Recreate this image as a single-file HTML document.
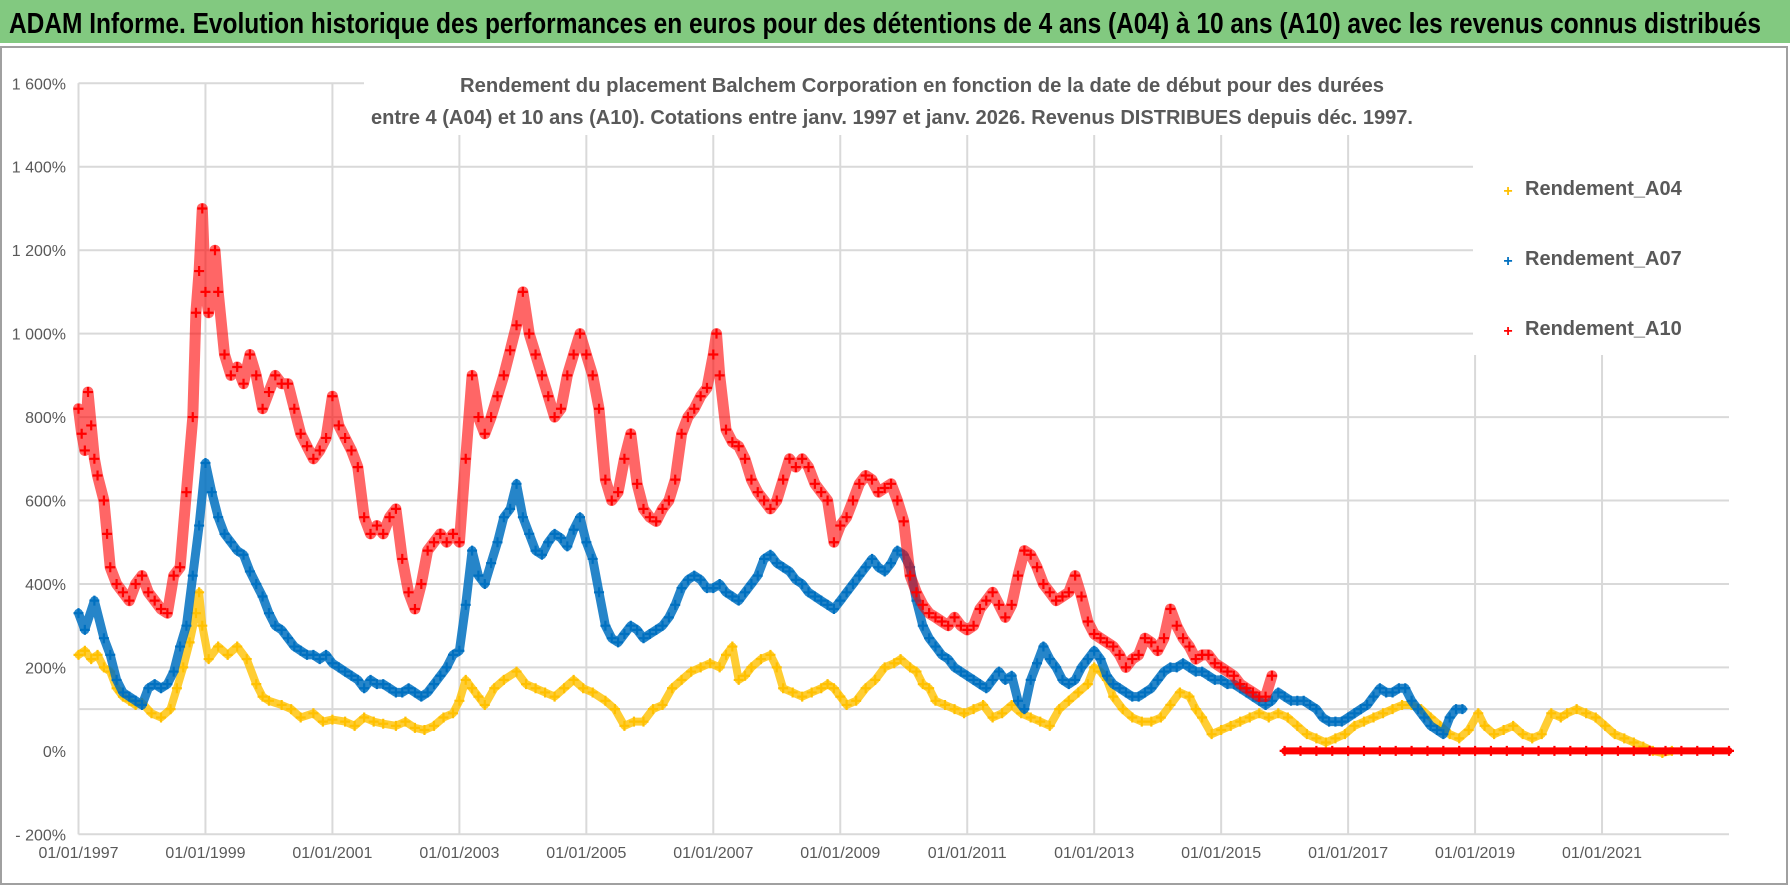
<!DOCTYPE html>
<html><head><meta charset="utf-8"><style>
html,body{margin:0;padding:0;background:#fff;}
svg{display:block;font-family:"Liberation Sans",sans-serif;}
</style></head><body>
<svg id="chart" width="1790" height="886" viewBox="0 0 1790 886" xmlns="http://www.w3.org/2000/svg">
<rect x="0" y="0" width="1790" height="886" fill="#fff"/>
<rect x="0" y="0" width="1790" height="43" fill="#82c980"/>
<text x="9" y="33" font-size="29" font-weight="bold" fill="#000" textLength="1752" lengthAdjust="spacingAndGlyphs">ADAM Informe. Evolution historique des performances en euros pour des détentions de 4 ans (A04) à 10 ans (A10) avec les revenus connus distribués</text>
<rect x="1" y="47" width="1786" height="837" fill="none" stroke="#a0a0a0" stroke-width="2"/>
<g id="grid"></g>
<g id="axes"></g>
<g id="marks"></g>
<rect x="364" y="60" width="1380" height="75" fill="#fff"/>
<text x="922" y="92" font-size="20" font-weight="bold" fill="#595959" text-anchor="middle" textLength="924" lengthAdjust="spacingAndGlyphs">Rendement du placement Balchem Corporation en fonction de la date de début pour des durées</text>
<text x="892" y="124" font-size="20" font-weight="bold" fill="#595959" text-anchor="middle" textLength="1042" lengthAdjust="spacingAndGlyphs">entre 4 (A04) et 10 ans (A10). Cotations entre janv. 1997 et janv. 2026. Revenus DISTRIBUES depuis déc. 1997.</text>
<g>
<rect x="1473" y="135" width="300" height="220" fill="#fff"/>
<g><text x="1508" y="196" font-size="16" fill="#FFC000" font-weight="bold" text-anchor="middle">+</text><text x="1525" y="195" font-size="20" font-weight="bold" fill="#595959">Rendement_A04</text></g>
<g><text x="1508" y="266" font-size="16" fill="#0070C0" font-weight="bold" text-anchor="middle">+</text><text x="1525" y="265" font-size="20" font-weight="bold" fill="#595959">Rendement_A07</text></g>
<g><text x="1508" y="336" font-size="16" fill="#FF0000" font-weight="bold" text-anchor="middle">+</text><text x="1525" y="335" font-size="20" font-weight="bold" fill="#595959">Rendement_A10</text></g>
</g>
</svg>
<script>
const yTicks=[1600,1400,1200,1000,800,600,400,200,100,-200];
const yTickLabels=["1 600%","1 400%","1 200%","1 000%","800%","600%","400%","200%","","- 200%"];
const yLabelOnly=[0];
const xTicks=[1997,1999,2001,2003,2005,2007,2009,2011,2013,2015,2017,2019,2021];
const xTickLabels=["01/01/1997","01/01/1999","01/01/2001","01/01/2003","01/01/2005","01/01/2007","01/01/2009","01/01/2011","01/01/2013","01/01/2015","01/01/2017","01/01/2019","01/01/2021"];

const a04Dates=[1997.0,1997.1,1997.2,1997.3,1997.4,1997.5,1997.6,1997.7,1997.8,1997.9,1998.0,1998.15,1998.3,1998.45,1998.55,1998.65,1998.75,1998.85,1998.9,1998.95,1999.05,1999.2,1999.35,1999.5,1999.65,1999.8,1999.9,2000.0,2000.2,2000.35,2000.5,2000.7,2000.85,2001.0,2001.2,2001.35,2001.5,2001.65,2001.8,2002.0,2002.15,2002.3,2002.45,2002.6,2002.75,2002.9,2003.0,2003.1,2003.2,2003.3,2003.4,2003.55,2003.7,2003.9,2004.05,2004.2,2004.35,2004.5,2004.65,2004.8,2004.95,2005.1,2005.3,2005.45,2005.6,2005.75,2005.9,2006.05,2006.2,2006.35,2006.5,2006.65,2006.8,2006.95,2007.1,2007.2,2007.3,2007.4,2007.5,2007.6,2007.75,2007.9,2008.0,2008.1,2008.25,2008.4,2008.55,2008.7,2008.8,2008.9,2009.0,2009.1,2009.25,2009.4,2009.55,2009.7,2009.85,2009.95,2010.1,2010.2,2010.3,2010.4,2010.5,2010.65,2010.8,2010.95,2011.1,2011.25,2011.4,2011.55,2011.7,2011.85,2012.0,2012.15,2012.3,2012.45,2012.6,2012.75,2012.9,2013.0,2013.1,2013.2,2013.3,2013.45,2013.6,2013.75,2013.9,2014.05,2014.2,2014.35,2014.5,2014.6,2014.7,2014.85,2015.0,2015.15,2015.3,2015.45,2015.6,2015.75,2015.9,2016.05,2016.2,2016.35,2016.5,2016.65,2016.8,2016.95,2017.1,2017.25,2017.4,2017.55,2017.7,2017.85,2018.0,2018.15,2018.3,2018.45,2018.6,2018.75,2018.9,2019.05,2019.15,2019.3,2019.45,2019.6,2019.75,2019.9,2020.05,2020.2,2020.35,2020.45,2020.6,2020.75,2020.9,2021.05,2021.2,2021.35,2021.5,2021.65,2021.8,2021.95,2022.1,2022.2,2022.3];
const a04Values=[230,240,220,230,200,190,150,130,120,110,115,90,80,100,150,200,260,330,380,300,220,250,230,250,220,160,130,120,110,100,80,90,70,75,70,60,80,70,65,60,70,55,50,60,80,90,120,170,150,130,110,150,170,190,160,150,140,130,150,170,150,140,120,100,60,70,70,100,110,150,170,190,200,210,200,230,250,170,180,200,220,230,200,150,140,130,140,150,160,150,130,110,120,150,170,200,210,220,200,190,160,150,120,110,100,90,100,110,80,90,110,90,80,70,60,100,120,140,160,200,190,170,130,100,80,70,70,80,110,140,130,100,80,40,50,60,70,80,90,80,90,80,60,40,30,20,30,40,60,70,80,90,100,110,110,100,80,60,40,30,50,90,60,40,50,60,40,30,40,90,80,90,100,90,80,60,40,30,20,10,0,-5,0];

const a07Dates=[1997.0,1997.1,1997.25,1997.4,1997.5,1997.6,1997.7,1997.8,1997.9,1998.0,1998.1,1998.2,1998.3,1998.4,1998.5,1998.6,1998.7,1998.8,1998.9,1999.0,1999.1,1999.2,1999.3,1999.4,1999.5,1999.6,1999.7,1999.8,1999.9,2000.0,2000.1,2000.2,2000.3,2000.4,2000.5,2000.6,2000.7,2000.8,2000.9,2001.0,2001.1,2001.2,2001.3,2001.4,2001.5,2001.6,2001.7,2001.8,2001.9,2002.0,2002.1,2002.2,2002.3,2002.4,2002.5,2002.6,2002.7,2002.8,2002.9,2003.0,2003.1,2003.2,2003.3,2003.4,2003.5,2003.6,2003.7,2003.8,2003.9,2004.0,2004.1,2004.2,2004.3,2004.4,2004.5,2004.6,2004.7,2004.8,2004.9,2005.0,2005.1,2005.2,2005.3,2005.4,2005.5,2005.6,2005.7,2005.8,2005.9,2006.0,2006.1,2006.2,2006.3,2006.4,2006.5,2006.6,2006.7,2006.8,2006.9,2007.0,2007.1,2007.2,2007.3,2007.4,2007.5,2007.6,2007.7,2007.8,2007.9,2008.0,2008.1,2008.2,2008.3,2008.4,2008.5,2008.6,2008.7,2008.8,2008.9,2009.0,2009.1,2009.2,2009.3,2009.4,2009.5,2009.6,2009.7,2009.8,2009.9,2010.0,2010.1,2010.2,2010.3,2010.4,2010.5,2010.6,2010.7,2010.8,2010.9,2011.0,2011.1,2011.2,2011.3,2011.4,2011.5,2011.6,2011.7,2011.8,2011.9,2012.0,2012.1,2012.2,2012.3,2012.4,2012.5,2012.6,2012.7,2012.8,2012.9,2013.0,2013.1,2013.2,2013.3,2013.4,2013.5,2013.6,2013.7,2013.8,2013.9,2014.0,2014.1,2014.2,2014.3,2014.4,2014.5,2014.6,2014.7,2014.8,2014.9,2015.0,2015.1,2015.2,2015.3,2015.4,2015.5,2015.6,2015.7,2015.8,2015.9,2016.0,2016.1,2016.2,2016.3,2016.4,2016.5,2016.6,2016.7,2016.8,2016.9,2017.0,2017.1,2017.2,2017.3,2017.4,2017.5,2017.6,2017.7,2017.8,2017.9,2018.0,2018.1,2018.2,2018.3,2018.4,2018.5,2018.6,2018.7,2018.8,2018.9,2019.0,2019.1];
const a07Values=[330,290,360,270,230,170,140,130,120,110,150,160,150,160,190,250,300,420,540,690,620,560,520,500,480,470,430,400,370,330,300,290,270,250,240,230,230,220,230,210,200,190,180,170,150,170,160,160,150,140,140,150,140,130,140,160,180,200,230,240,350,480,420,400,450,500,560,580,640,560,520,480,470,500,520,510,490,530,560,500,460,380,300,270,260,280,300,290,270,280,290,300,320,350,390,410,420,410,390,390,400,380,370,360,380,400,420,460,470,450,440,430,410,400,380,370,360,350,340,360,380,400,420,440,460,440,430,450,480,470,440,360,300,270,250,230,220,200,190,180,170,160,150,170,190,170,180,120,100,170,210,250,220,200,170,160,170,200,220,240,220,180,160,150,140,130,130,140,150,170,190,200,200,210,200,190,190,180,170,170,160,160,150,140,130,120,110,120,140,130,120,120,120,110,100,80,70,70,70,80,90,100,110,130,150,140,140,150,150,120,100,80,60,50,40,80,100,100];

const a10Dates=[1997.0,1997.05,1997.1,1997.15,1997.2,1997.25,1997.3,1997.4,1997.45,1997.5,1997.6,1997.7,1997.8,1997.9,1998.0,1998.1,1998.2,1998.3,1998.4,1998.5,1998.6,1998.7,1998.8,1998.85,1998.9,1998.95,1999.0,1999.05,1999.15,1999.2,1999.3,1999.4,1999.5,1999.6,1999.7,1999.8,1999.9,2000.0,2000.1,2000.2,2000.3,2000.4,2000.5,2000.6,2000.7,2000.8,2000.9,2001.0,2001.1,2001.2,2001.3,2001.4,2001.5,2001.6,2001.7,2001.8,2001.9,2002.0,2002.1,2002.2,2002.3,2002.4,2002.5,2002.6,2002.7,2002.8,2002.9,2003.0,2003.1,2003.2,2003.3,2003.4,2003.5,2003.6,2003.7,2003.8,2003.9,2004.0,2004.1,2004.2,2004.3,2004.4,2004.5,2004.6,2004.7,2004.8,2004.9,2005.0,2005.1,2005.2,2005.3,2005.4,2005.5,2005.6,2005.7,2005.8,2005.9,2006.0,2006.1,2006.2,2006.3,2006.4,2006.5,2006.6,2006.7,2006.8,2006.9,2007.0,2007.05,2007.1,2007.2,2007.3,2007.4,2007.5,2007.6,2007.7,2007.8,2007.9,2008.0,2008.1,2008.2,2008.3,2008.4,2008.5,2008.6,2008.7,2008.8,2008.9,2009.0,2009.1,2009.2,2009.3,2009.4,2009.5,2009.6,2009.7,2009.8,2009.9,2010.0,2010.1,2010.2,2010.3,2010.4,2010.5,2010.6,2010.7,2010.8,2010.9,2011.0,2011.1,2011.2,2011.3,2011.4,2011.5,2011.6,2011.7,2011.8,2011.9,2012.0,2012.1,2012.2,2012.3,2012.4,2012.5,2012.6,2012.7,2012.8,2012.9,2013.0,2013.1,2013.2,2013.3,2013.4,2013.5,2013.6,2013.7,2013.8,2013.9,2014.0,2014.1,2014.2,2014.3,2014.4,2014.5,2014.6,2014.7,2014.8,2014.9,2015.0,2015.1,2015.2,2015.3,2015.4,2015.5,2015.6,2015.7,2015.8,2015.9,2016.0];
const a10Values=[820,760,720,860,780,700,660,600,520,440,400,380,360,400,420,380,360,340,330,420,440,620,800,1050,1150,1300,1100,1050,1200,1100,950,900,920,880,950,900,820,860,900,880,880,820,760,730,700,720,750,850,780,750,720,680,560,520,540,520,560,580,460,380,340,400,480,500,520,500,520,500,700,900,800,760,800,850,900,960,1020,1100,1000,950,900,850,800,820,900,950,1000,950,900,820,650,600,620,700,760,640,580,560,550,580,600,650,760,800,820,850,870,950,1000,900,770,740,730,700,650,620,600,580,600,650,700,680,700,680,640,620,600,500,540,560,600,640,660,650,620,630,640,600,550,420,380,350,330,320,310,300,320,300,290,300,340,360,380,350,320,350,420,480,470,440,400,380,360,370,380,420,370,310,280,270,260,250,230,200,220,230,270,260,240,270,340,300,270,250,220,230,230,210,200,190,180,160,150,140,130,130,180];
const a10ZeroDates=[2016.0,2016.25,2016.5,2016.75,2017.0,2017.25,2017.5,2017.75,2018.0,2018.25,2018.5,2018.75,2019.0,2019.25,2019.5,2019.75,2020.0,2020.25,2020.5,2020.75,2021.0,2021.25,2021.5,2021.75,2022.0,2022.25,2022.5,2022.75,2023.0];
const a10ZeroValues=[0,0,0,0,0,0,0,0,0,0,0,0,0,0,0,0,0,0,0,0,0,0,0,0,0,0,0,0,0];

const NS="http://www.w3.org/2000/svg";
const X0=78.5,X1=1729,Y_TOP=83.3,Y_BOT=834.3,VMIN=-200,VMAX=1600,T0=1997,T1=2023;
function xs(t){return X0+(t-T0)*(X1-X0)/(T1-T0);}
function ys(v){return Y_BOT-(v-VMIN)*(Y_BOT-Y_TOP)/(VMAX-VMIN);}
function mk(tag,attrs,parent){const e=document.createElementNS(NS,tag);for(const k in attrs)e.setAttribute(k,attrs[k]);parent.appendChild(e);return e;}
const grid=document.getElementById('grid'),axes=document.getElementById('axes'),marks=document.getElementById('marks');

yTicks.forEach((v,i)=>{
  const l=mk('line',{x1:X0,x2:X1,y1:ys(v),y2:ys(v),stroke:'#d9d9d9','stroke-width':2},grid);
  
  
  if(yTickLabels[i]){
    const t=mk('text',{x:66,y:ys(v)+6,'font-size':16,fill:'#595959','text-anchor':'end'},axes);
    t.textContent=yTickLabels[i];
    
    
  }
});
yLabelOnly.forEach(v=>{
  const t=mk('text',{x:66,y:ys(v)+6,'font-size':16,fill:'#595959','text-anchor':'end'},axes);
  t.textContent=v+'%';
  
  
});
const yAxis=mk('line',{x1:X0,x2:X0,y1:Y_TOP,y2:Y_BOT,stroke:'#d9d9d9','stroke-width':2},grid);


xTicks.forEach((t,i)=>{
  const l=mk('line',{x1:xs(t),x2:xs(t),y1:Y_TOP,y2:Y_BOT,stroke:'#d9d9d9','stroke-width':2},grid);
  
  
  const tx=mk('text',{x:xs(t),y:858,'font-size':16,fill:'#595959','text-anchor':'middle'},axes);
  tx.textContent=xTickLabels[i];
  
  
});

function series(dates,vals,color,name,band,op){
  const g=mk('g',{},marks);
  
  
  const pts=dates.map((d,i)=>xs(d).toFixed(1)+','+ys(vals[i]).toFixed(1)).join(' ');
  const pl=mk('polyline',{points:pts,fill:'none',stroke:color,'stroke-width':band,'stroke-opacity':op,'stroke-linejoin':'round','stroke-linecap':'round'},g);
  
  
  dates.forEach((d,i)=>{
    const x=xs(d),y=ys(vals[i]);
    const p=mk('path',{d:`M${x-5},${y}H${x+5}M${x},${y-5}V${y+5}`,stroke:color,'stroke-width':2.2},g);
    
    
  });
}
series(a04Dates,a04Values,'#FFC000','series-a04',8,0.8);
series(a07Dates,a07Values,'#0070C0','series-a07',9,0.85);
series(a10Dates,a10Values,'#FF0000','series-a10',11,0.6);
series(a10ZeroDates,a10ZeroValues,'#FF0000','series-a10-zero',7,1);
</script>
</body></html>
